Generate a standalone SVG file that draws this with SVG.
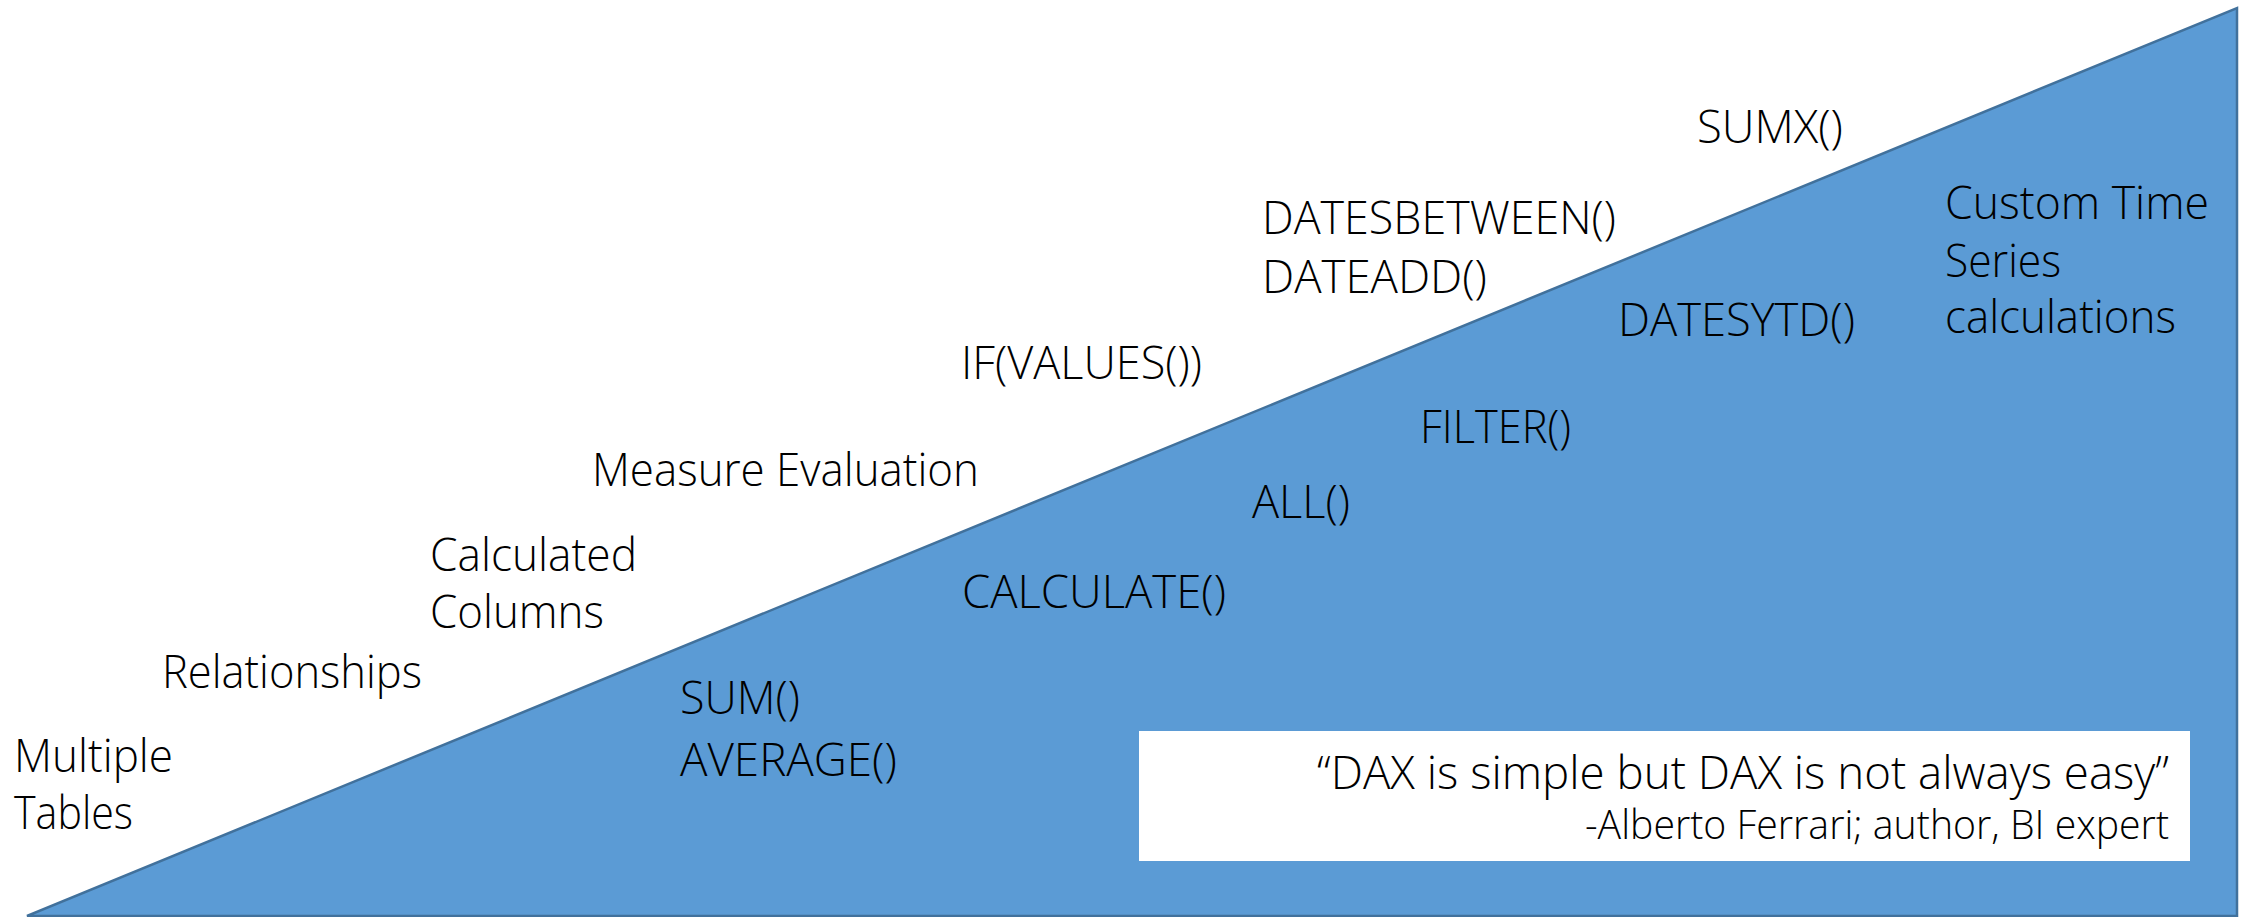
<svg xmlns="http://www.w3.org/2000/svg" width="2249" height="917" viewBox="0 0 2249 917">
  <style>
    .t { font-family: "Open Sans", "Liberation Sans", sans-serif; font-weight: 300; font-size: 46px; fill: #000; }
    .q { font-family: "Open Sans", "Liberation Sans", sans-serif; font-weight: 300; fill: #000; text-anchor: end; }
  </style>
  <rect width="2249" height="917" fill="#ffffff"/>

  <!-- rising wedge -->
  <g id="wedge">
    <polygon points="27,916 2237,8 2237,916" fill="#5B9BD5" stroke="#41719C" stroke-width="2.5" stroke-linejoin="miter"/>
  </g>

  <!-- concepts above the slope -->
  <g id="multiple-tables">
    <text class="t" x="14" y="772" textLength="159" lengthAdjust="spacingAndGlyphs">Multiple</text>
    <text class="t" x="14" y="829" textLength="119" lengthAdjust="spacingAndGlyphs">Tables</text>
  </g>
  <g id="relationships">
    <text class="t" x="162" y="688" textLength="260" lengthAdjust="spacingAndGlyphs">Relationships</text>
  </g>
  <g id="calculated-columns">
    <text class="t" x="430" y="571" textLength="207" lengthAdjust="spacingAndGlyphs">Calculated</text>
    <text class="t" x="430" y="628" textLength="174" lengthAdjust="spacingAndGlyphs">Columns</text>
  </g>
  <g id="measure-evaluation">
    <text class="t" x="592" y="486" textLength="387" lengthAdjust="spacingAndGlyphs">Measure Evaluation</text>
  </g>
  <g id="if-values">
    <text class="t" x="961" y="379" textLength="241" lengthAdjust="spacingAndGlyphs">IF(VALUES())</text>
  </g>
  <g id="date-functions">
    <text class="t" x="1262" y="234" textLength="354" lengthAdjust="spacingAndGlyphs">DATESBETWEEN()</text>
    <text class="t" x="1262" y="293" textLength="225" lengthAdjust="spacingAndGlyphs">DATEADD()</text>
  </g>
  <g id="sumx">
    <text class="t" x="1697" y="143" textLength="146" lengthAdjust="spacingAndGlyphs">SUMX()</text>
  </g>

  <!-- functions inside the wedge -->
  <g id="custom-time-series">
    <text class="t" x="1945" y="219" textLength="264" lengthAdjust="spacingAndGlyphs">Custom Time</text>
    <text class="t" x="1945" y="277" textLength="116" lengthAdjust="spacingAndGlyphs">Series</text>
    <text class="t" x="1945" y="333" textLength="231" lengthAdjust="spacingAndGlyphs">calculations</text>
  </g>
  <g id="datesytd">
    <text class="t" x="1618" y="336" textLength="237" lengthAdjust="spacingAndGlyphs">DATESYTD()</text>
  </g>
  <g id="filter">
    <text class="t" x="1420" y="443" textLength="151" lengthAdjust="spacingAndGlyphs">FILTER()</text>
  </g>
  <g id="all">
    <text class="t" x="1252" y="518" textLength="98" lengthAdjust="spacingAndGlyphs">ALL()</text>
  </g>
  <g id="calculate">
    <text class="t" x="962" y="608" textLength="264" lengthAdjust="spacingAndGlyphs">CALCULATE()</text>
  </g>
  <g id="sum-average">
    <text class="t" x="680" y="714" textLength="120" lengthAdjust="spacingAndGlyphs">SUM()</text>
    <text class="t" x="680" y="776" textLength="217" lengthAdjust="spacingAndGlyphs">AVERAGE()</text>
  </g>

  <!-- quotation panel -->
  <g id="quote">
    <rect x="1139" y="731" width="1051" height="130" fill="#ffffff"/>
    <text class="q" x="2169" y="789" font-size="46" textLength="852" lengthAdjust="spacingAndGlyphs">“DAX is simple but DAX is not always easy”</text>
    <text class="q" x="2169" y="839" font-size="40" textLength="584" lengthAdjust="spacingAndGlyphs">-Alberto Ferrari; author, BI expert</text>
  </g>
</svg>
